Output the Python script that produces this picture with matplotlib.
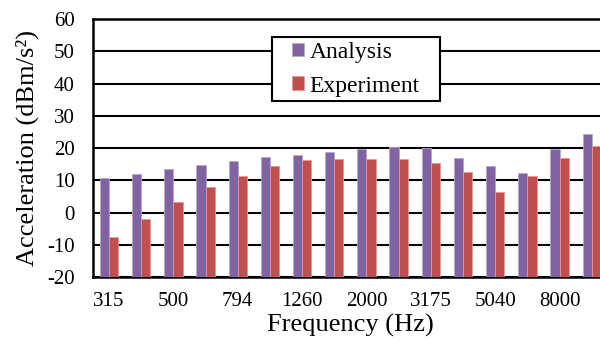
import numpy as np
import matplotlib
matplotlib.use("Agg")
import matplotlib.pyplot as plt
from matplotlib.patches import Rectangle

plt.rcParams['font.family'] = ['Liberation Serif', 'DejaVu Serif']
plt.rcParams['axes.unicode_minus'] = False

# data
freqs = ['315', '400', '500', '630', '794', '1000', '1260', '1600',
         '2000', '2500', '3175', '4000', '5040', '6350', '8000', '10000']
analysis = [10.7, 12.0, 13.5, 14.7, 16.0, 17.1, 17.9, 18.9,
            19.6, 20.3, 20.1, 16.9, 14.5, 12.3, 19.6, 24.4]
experiment = [-7.5, -2.1, 3.4, 7.9, 11.4, 14.5, 16.3, 16.6,
              16.6, 16.6, 15.5, 12.6, 6.5, 11.3, 17.0, 20.5]
yticks = [-20, -10, 0, 10, 20, 30, 40, 50, 60]
base = -20  # bars start at the bottom of the axis, like Excel

fig = plt.figure(figsize=(6, 3.43), dpi=100)
# axes run past the right edge, as in the reference
ax = fig.add_axes([0.155, 0.1924, 0.858, 0.752])

x = np.arange(len(freqs))
w = 0.285
ax.bar(x - w / 2, np.array(analysis) - base, w, bottom=base, color='#8064A2',
       label='Analysis', edgecolor='#B9A7CC', linewidth=0.6, zorder=3)
ax.bar(x + w / 2, np.array(experiment) - base, w, bottom=base, color='#C0504D',
       label='Experiment', edgecolor='#E29A98', linewidth=0.6, zorder=3)

ax.set_xlim(-0.5, len(freqs) - 0.5)
ax.set_ylim(-20, 60)
ax.set_yticks(yticks)
ax.set_xticks(x[::2])
ax.set_xticklabels(freqs[::2])
ax.yaxis.grid(True, color='black', linewidth=1.5, zorder=0)
ax.set_axisbelow(True)
for s in ax.spines.values():
    s.set_linewidth(1.8)
    s.set_color('black')

ax.tick_params(axis='both', length=0, labelsize=15)
ax.tick_params(axis='x', pad=11)
ax.tick_params(axis='y', pad=13)

ax.set_xlabel('Frequency (Hz)', fontsize=19, labelpad=2)
ax.set_ylabel('Acceleration (dBm/s²)', fontsize=19, labelpad=6)

# legend box drawn separately so the side margins can be wider
ax.add_patch(Rectangle((0.348, 0.682), 0.326, 0.248, transform=ax.transAxes,
                       facecolor='white', edgecolor='black', linewidth=1.5,
                       zorder=4))
leg = ax.legend(loc='center', bbox_to_anchor=(0.511, 0.806), fontsize=17,
                frameon=False, handlelength=0.5, handleheight=0.5,
                handletextpad=0.25, borderpad=0.1, labelspacing=0.55)
leg.set_zorder(5)

fig.savefig('out.png', dpi=100)
